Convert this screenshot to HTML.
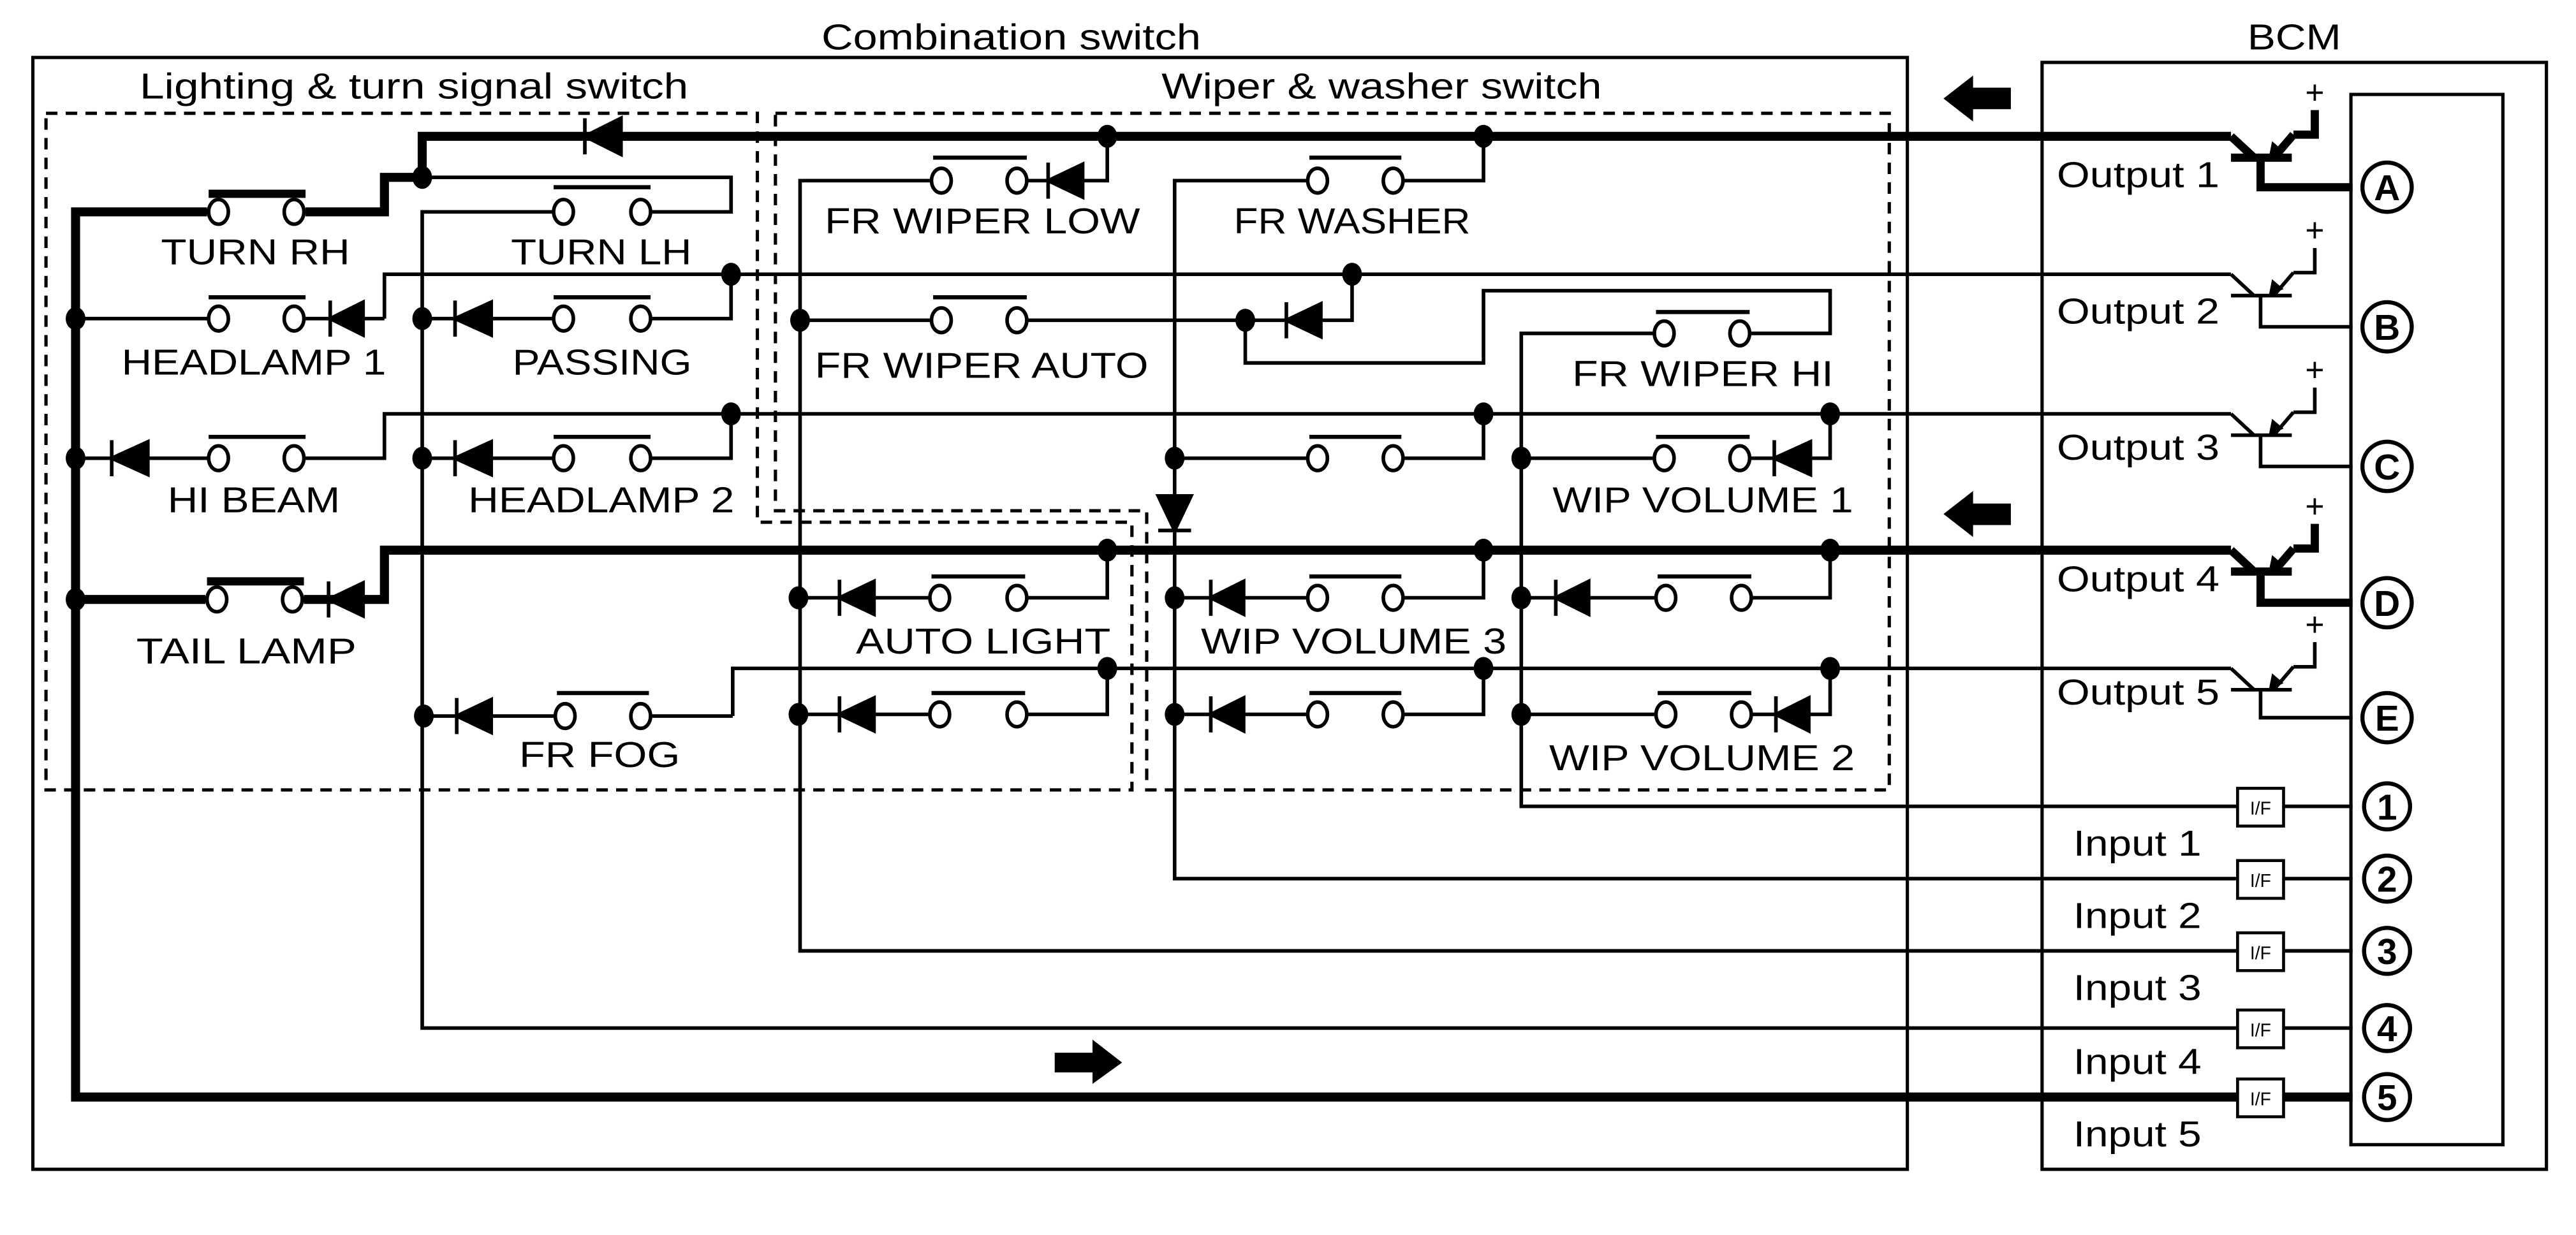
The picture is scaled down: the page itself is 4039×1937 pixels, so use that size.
<!DOCTYPE html>
<html><head><meta charset="utf-8"><style>
html,body{margin:0;padding:0;background:#fff;}
svg{display:block;}
text{font-family:"Liberation Sans",sans-serif;fill:#000;}
</style></head><body>
<svg width="4039" height="1937" viewBox="0 0 1568 752" preserveAspectRatio="none" xmlns="http://www.w3.org/2000/svg">
<rect width="1568" height="752" fill="#fff"/>
<!-- frames -->
<g fill="none" stroke="#000" stroke-width="2">
<rect x="20" y="35" width="1141" height="677"/>
<rect x="1243" y="38" width="307" height="674"/>
<rect x="1431" y="57.5" width="92.5" height="639.5"/>
</g>
<g fill="none" stroke="#000" stroke-width="2" stroke-dasharray="7,5">
<path d="M28,69 H461 V318 H689 V481 H28 Z"/>
<path d="M472,69 H1150 V481 H698 V311 H472 Z"/>
</g>
<!-- titles -->
<g font-size="22">
<text x="500" y="30" textLength="231" lengthAdjust="spacingAndGlyphs">Combination switch</text>
<text x="1368" y="30" textLength="57" lengthAdjust="spacingAndGlyphs">BCM</text>
<text x="85" y="60" textLength="334" lengthAdjust="spacingAndGlyphs">Lighting &amp; turn signal switch</text>
<text x="707" y="60" textLength="268" lengthAdjust="spacingAndGlyphs">Wiper &amp; washer switch</text>
</g>
<!-- thin wires -->
<g fill="none" stroke="#000" stroke-width="2.2">
<path d="M257,108 H445 V129 H397"/>
<path d="M336,129 H257 V626 H1362 M1390,626 H1432"/>
<path d="M234,194 V167 H1358"/>
<path d="M46,194 H126 M186,194 H234"/>
<path d="M257,194 H336 M397,194 H445 V167"/>
<path d="M46,279 H126 M186,279 H234 V252 H1358"/>
<path d="M257,279 H336 M397,279 H445 V252"/>
<!-- wiper -->
<path d="M674,83 V110 H626 M566,110 H487 V579 H1362 M1390,579 H1432"/>
<path d="M903,83 V110 H855 M795,110 H715 V535 H1362 M1390,535 H1432"/>
<path d="M487,195 H566 M626,195 H783 M804,195 H823 V167"/>
<path d="M758,195 V221 H903 V177 H1114 V203 H1066 M1006,203 H926 V491 H1362 M1390,491 H1432"/>
<path d="M903,252 V279 H855 M795,279 H715"/>
<path d="M1114,252 V279 H1066 M1006,279 H926"/>
<path d="M674,335 V364 H626 M565,364 H486"/>
<path d="M903,335 V364 H855 M795,364 H715"/>
<path d="M1114,335 V364 H1067 M1007,364 H926"/>
<path d="M446,436 V407 H1358"/>
<path d="M446,436 H397 M337,436 H258"/>
<path d="M674,407 V435 H626 M565,435 H486"/>
<path d="M903,407 V435 H855 M795,435 H715"/>
<path d="M1114,407 V435 H1067 M1007,435 H926"/>
</g>
<!-- thick wires -->
<g fill="none" stroke="#000" stroke-width="5.5">
<path d="M126,129 H46 V668 H1362"/>
<path d="M1390,668 H1432"/>
<path d="M186,129 H234 V108 H257 V83 H1358"/>
<path d="M46,365 H125 M185,365 H234 V335 H1358"/>
</g>
<!-- switch bars -->
<g stroke="#000" stroke-width="2.5">
<path d="M337,114 H396 M127,181 H186 M337,181 H396 M127,266 H186 M337,266 H396"/>
<path d="M568,96 H625 M797,96 H853 M568,181 H625 M1008,190 H1065 M797,266 H853 M1008,266 H1065"/>
<path d="M567,351 H624 M797,351 H853 M1009,351 H1066 M339,422 H395 M567,422 H624 M797,422 H853 M1009,422 H1066"/>
</g>
<g stroke="#000" stroke-width="5">
<path d="M127,118 H186 M126,354 H185"/>
</g>
<!-- switch circles -->
<g fill="#fff" stroke="#000" stroke-width="2.2">
<ellipse cx="133" cy="129" rx="6" ry="7.5"/><ellipse cx="179" cy="129" rx="6" ry="7.5"/>
<ellipse cx="343" cy="129" rx="6" ry="7.5"/><ellipse cx="390" cy="129" rx="6" ry="7.5"/>
<ellipse cx="133" cy="194" rx="6" ry="7.5"/><ellipse cx="179" cy="194" rx="6" ry="7.5"/>
<ellipse cx="343" cy="194" rx="6" ry="7.5"/><ellipse cx="390" cy="194" rx="6" ry="7.5"/>
<ellipse cx="133" cy="279" rx="6" ry="7.5"/><ellipse cx="179" cy="279" rx="6" ry="7.5"/>
<ellipse cx="343" cy="279" rx="6" ry="7.5"/><ellipse cx="390" cy="279" rx="6" ry="7.5"/>
<ellipse cx="132" cy="365" rx="6" ry="7.5"/><ellipse cx="178" cy="365" rx="6" ry="7.5"/>
<ellipse cx="344" cy="436" rx="6" ry="7.5"/><ellipse cx="390" cy="436" rx="6" ry="7.5"/>
<ellipse cx="573" cy="110" rx="6" ry="7.5"/><ellipse cx="619" cy="110" rx="6" ry="7.5"/>
<ellipse cx="802" cy="110" rx="6" ry="7.5"/><ellipse cx="848" cy="110" rx="6" ry="7.5"/>
<ellipse cx="573" cy="195" rx="6" ry="7.5"/><ellipse cx="619" cy="195" rx="6" ry="7.5"/>
<ellipse cx="1013" cy="203" rx="6" ry="7.5"/><ellipse cx="1059" cy="203" rx="6" ry="7.5"/>
<ellipse cx="802" cy="279" rx="6" ry="7.5"/><ellipse cx="848" cy="279" rx="6" ry="7.5"/>
<ellipse cx="1013" cy="279" rx="6" ry="7.5"/><ellipse cx="1059" cy="279" rx="6" ry="7.5"/>
<ellipse cx="572" cy="364" rx="6" ry="7.5"/><ellipse cx="619" cy="364" rx="6" ry="7.5"/>
<ellipse cx="802" cy="364" rx="6" ry="7.5"/><ellipse cx="848" cy="364" rx="6" ry="7.5"/>
<ellipse cx="1014" cy="364" rx="6" ry="7.5"/><ellipse cx="1060" cy="364" rx="6" ry="7.5"/>
<ellipse cx="572" cy="435" rx="6" ry="7.5"/><ellipse cx="619" cy="435" rx="6" ry="7.5"/>
<ellipse cx="802" cy="435" rx="6" ry="7.5"/><ellipse cx="848" cy="435" rx="6" ry="7.5"/>
<ellipse cx="1014" cy="435" rx="6" ry="7.5"/><ellipse cx="1060" cy="435" rx="6" ry="7.5"/>
</g>
<!-- diodes (pointing left): tip x, y -->
<g fill="#000" stroke="#000" stroke-width="2.2">
<path d="M356,83 L378,72 V94 Z M356,72 V94"/>
<path d="M201,194 L221,184 V204 Z M201,183 V205"/>
<path d="M277,194 L299,184 V204 Z M277,183 V205"/>
<path d="M68,279 L90,269 V289 Z M68,268 V290"/>
<path d="M277,279 L299,269 V289 Z M277,268 V290"/>
<path d="M200,365 L221,355 V375 Z M200,354 V376"/>
<path d="M278,436 L299,426 V446 Z M278,425 V447"/>
<path d="M638,110 L659,100 V120 Z M638,99 V121"/>
<path d="M783,195 L804,185 V205 Z M783,184 V206"/>
<path d="M1080,279 L1102,269 V289 Z M1080,268 V290"/>
<path d="M511,364 L532,354 V374 Z M511,353 V375"/>
<path d="M737,364 L757,354 V374 Z M737,353 V375"/>
<path d="M947,364 L967,354 V374 Z M947,353 V375"/>
<path d="M511,435 L532,425 V445 Z M511,424 V446"/>
<path d="M737,435 L757,425 V445 Z M737,424 V446"/>
<path d="M1081,435 L1101,425 V445 Z M1081,424 V446"/>
<path d="M715,323 L705,302 H725 Z M705,323 H725"/>
</g>
<!-- junction dots -->
<g fill="#000">
<ellipse cx="257" cy="108" rx="6" ry="7"/>
<ellipse cx="445" cy="167" rx="6" ry="7"/><ellipse cx="445" cy="252" rx="6" ry="7"/>
<ellipse cx="46" cy="194" rx="6" ry="7"/><ellipse cx="46" cy="279" rx="6" ry="7"/><ellipse cx="46" cy="365" rx="6" ry="7"/>
<ellipse cx="257" cy="194" rx="6" ry="7"/><ellipse cx="257" cy="279" rx="6" ry="7"/><ellipse cx="258" cy="436" rx="6" ry="7"/>
<ellipse cx="674" cy="83" rx="6" ry="7"/><ellipse cx="903" cy="83" rx="6" ry="7"/>
<ellipse cx="823" cy="167" rx="6" ry="7"/><ellipse cx="487" cy="195" rx="6" ry="7"/><ellipse cx="758" cy="195" rx="6" ry="7"/>
<ellipse cx="903" cy="252" rx="6" ry="7"/><ellipse cx="1114" cy="252" rx="6" ry="7"/>
<ellipse cx="715" cy="279" rx="6" ry="7"/><ellipse cx="926" cy="279" rx="6" ry="7"/>
<ellipse cx="674" cy="335" rx="6" ry="7"/><ellipse cx="903" cy="335" rx="6" ry="7"/><ellipse cx="1114" cy="335" rx="6" ry="7"/>
<ellipse cx="486" cy="364" rx="6" ry="7"/><ellipse cx="715" cy="364" rx="6" ry="7"/><ellipse cx="926" cy="364" rx="6" ry="7"/>
<ellipse cx="674" cy="407" rx="6" ry="7"/><ellipse cx="903" cy="407" rx="6" ry="7"/><ellipse cx="1114" cy="407" rx="6" ry="7"/>
<ellipse cx="486" cy="435" rx="6" ry="7"/><ellipse cx="715" cy="435" rx="6" ry="7"/><ellipse cx="926" cy="435" rx="6" ry="7"/>
</g>
<!-- switch labels -->
<g font-size="22" lengthAdjust="spacingAndGlyphs">
<text x="98" y="161" textLength="115" lengthAdjust="spacingAndGlyphs">TURN RH</text>
<text x="311" y="161" textLength="110" lengthAdjust="spacingAndGlyphs">TURN LH</text>
<text x="74" y="228" textLength="161" lengthAdjust="spacingAndGlyphs">HEADLAMP 1</text>
<text x="312" y="228" textLength="109" lengthAdjust="spacingAndGlyphs">PASSING</text>
<text x="102" y="312" textLength="105" lengthAdjust="spacingAndGlyphs">HI BEAM</text>
<text x="285" y="312" textLength="162" lengthAdjust="spacingAndGlyphs">HEADLAMP 2</text>
<text x="83" y="404" textLength="134" lengthAdjust="spacingAndGlyphs">TAIL LAMP</text>
<text x="316" y="467" textLength="98" lengthAdjust="spacingAndGlyphs">FR FOG</text>
<text x="502" y="142" textLength="192" lengthAdjust="spacingAndGlyphs">FR WIPER LOW</text>
<text x="751" y="142" textLength="144" lengthAdjust="spacingAndGlyphs">FR WASHER</text>
<text x="496" y="230" textLength="203" lengthAdjust="spacingAndGlyphs">FR WIPER AUTO</text>
<text x="957" y="235" textLength="159" lengthAdjust="spacingAndGlyphs">FR WIPER HI</text>
<text x="945" y="312" textLength="183" lengthAdjust="spacingAndGlyphs">WIP VOLUME 1</text>
<text x="521" y="398" textLength="155" lengthAdjust="spacingAndGlyphs">AUTO LIGHT</text>
<text x="731" y="398" textLength="186" lengthAdjust="spacingAndGlyphs">WIP VOLUME 3</text>
<text x="943" y="469" textLength="186" lengthAdjust="spacingAndGlyphs">WIP VOLUME 2</text>
</g>
<!-- big arrows -->
<g fill="#000">
<path d="M1183,60 L1201,46 V53.4 H1224 V66.5 H1201 V74 Z"/>
<path d="M1183,313 L1201,299 V306.6 H1224 V319.7 H1201 V327 Z"/>
<path d="M683,647 L665,633 V641 H642 V653 H665 V660 Z"/>
</g>
<!-- transistors -->
<g fill="none" stroke="#000" stroke-width="2.2">
<path d="M1358,167 L1372,180 M1358,180 H1395 M1376,180 V199 H1432 M1396,166 H1409 V151 M1384,180 L1396,166"/>
<path d="M1358,252 L1372,265 M1358,265 H1395 M1376,265 V284 H1432 M1396,251 H1409 V236 M1384,265 L1396,251"/>
<path d="M1358,407 L1372,420 M1358,420 H1395 M1376,420 V437 H1432 M1396,406 H1409 V391 M1384,420 L1396,406"/>
</g>
<g fill="none" stroke="#000" stroke-width="5">
<path d="M1358,83 L1372,96 M1358,96 H1395 M1376,96 V114 H1432 M1396,82 H1409 V67 M1384,96 L1396,82"/>
<path d="M1358,335 L1372,348 M1358,348 H1395 M1376,348 V367 H1432 M1396,334 H1409 V319 M1384,348 L1396,334"/>
</g>
<g fill="#000">
<path d="M1381,96 L1383,86 L1390,92 Z"/>
<path d="M1381,180 L1383,170 L1390,176 Z"/>
<path d="M1381,265 L1383,255 L1390,261 Z"/>
<path d="M1381,348 L1383,338 L1390,344 Z"/>
<path d="M1381,420 L1383,410 L1390,416 Z"/>
</g>
<g font-size="20" text-anchor="middle">
<text x="1409" y="63">+</text><text x="1409" y="147">+</text><text x="1409" y="232">+</text><text x="1409" y="315">+</text><text x="1409" y="387">+</text>
</g>
<g font-size="22">
<text x="1252" y="114" textLength="99" lengthAdjust="spacingAndGlyphs">Output 1</text>
<text x="1252" y="197" textLength="99" lengthAdjust="spacingAndGlyphs">Output 2</text>
<text x="1252" y="280" textLength="99" lengthAdjust="spacingAndGlyphs">Output 3</text>
<text x="1252" y="360" textLength="99" lengthAdjust="spacingAndGlyphs">Output 4</text>
<text x="1252" y="429" textLength="99" lengthAdjust="spacingAndGlyphs">Output 5</text>
<text x="1262" y="521" textLength="78" lengthAdjust="spacingAndGlyphs">Input 1</text>
<text x="1262" y="565" textLength="78" lengthAdjust="spacingAndGlyphs">Input 2</text>
<text x="1262" y="609" textLength="78" lengthAdjust="spacingAndGlyphs">Input 3</text>
<text x="1262" y="654" textLength="78" lengthAdjust="spacingAndGlyphs">Input 4</text>
<text x="1262" y="698" textLength="78" lengthAdjust="spacingAndGlyphs">Input 5</text>
</g>
<!-- I/F boxes -->
<g fill="#fff" stroke="#000" stroke-width="1.8">
<rect x="1362" y="480" width="28" height="23"/><rect x="1362" y="524" width="28" height="23"/>
<rect x="1362" y="568" width="28" height="23"/><rect x="1362" y="615" width="28" height="23"/>
<rect x="1362" y="657" width="28" height="23"/>
</g>
<g font-size="11" text-anchor="middle">
<text x="1376" y="496">I/F</text><text x="1376" y="540">I/F</text><text x="1376" y="584">I/F</text><text x="1376" y="631">I/F</text><text x="1376" y="673">I/F</text>
</g>
<!-- circled letters / numbers -->
<g fill="#fff" stroke="#000" stroke-width="2.5">
<circle cx="1453" cy="114" r="15"/><circle cx="1453" cy="199" r="15"/><circle cx="1453" cy="284" r="15"/>
<circle cx="1453" cy="367" r="15"/><circle cx="1453" cy="437" r="15"/>
<circle cx="1453" cy="491" r="14"/><circle cx="1453" cy="535" r="14"/><circle cx="1453" cy="579" r="14"/>
<circle cx="1453" cy="626" r="14"/><circle cx="1453" cy="668" r="14"/>
</g>
<g font-size="22" font-weight="bold" text-anchor="middle">
<text x="1453" y="122">A</text><text x="1453" y="207">B</text><text x="1453" y="292">C</text><text x="1453" y="375">D</text><text x="1453" y="445">E</text>
<text x="1453" y="499">1</text><text x="1453" y="543">2</text><text x="1453" y="587">3</text><text x="1453" y="634">4</text><text x="1453" y="676">5</text>
</g>
</svg>
</body></html>
